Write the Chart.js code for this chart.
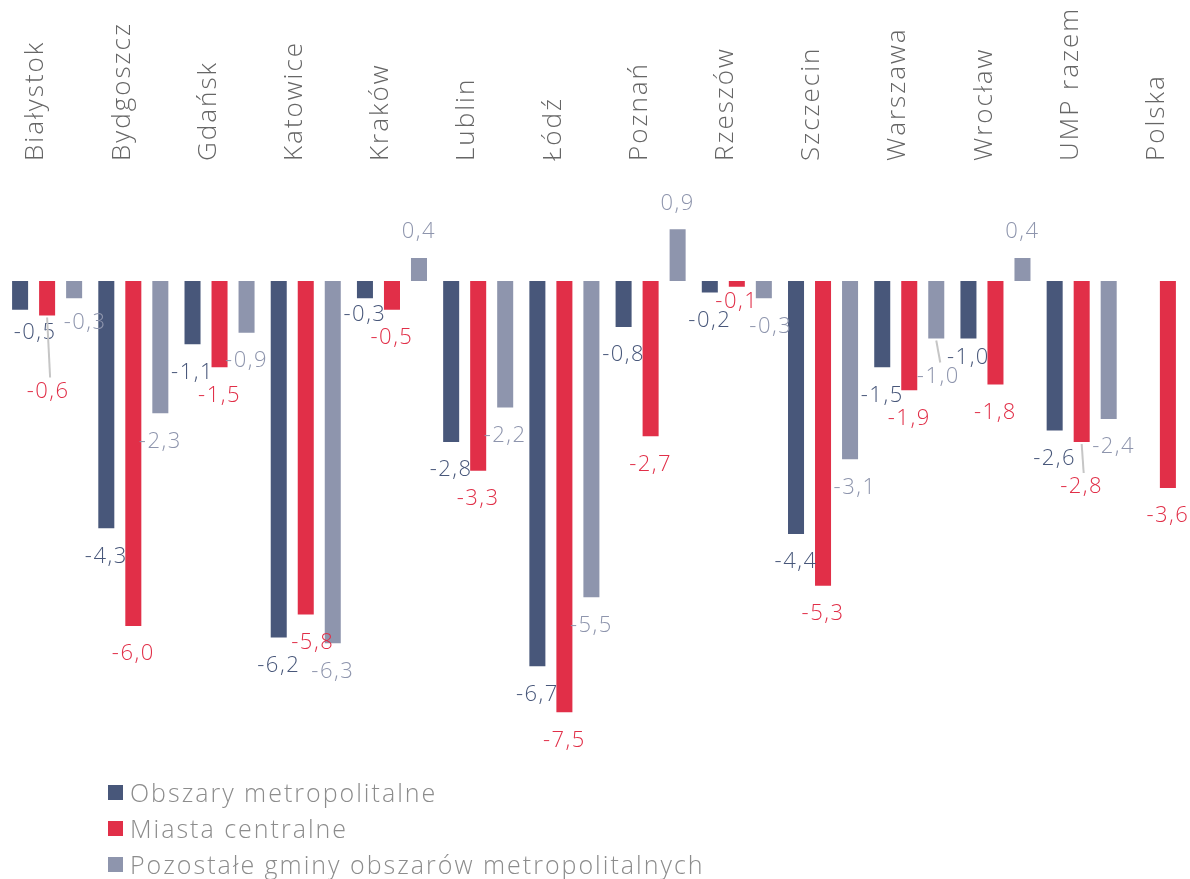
<!DOCTYPE html>
<html>
<head>
<meta charset="utf-8">
<script src="https://cdn.jsdelivr.net/npm/chart.js@4.4.1/dist/chart.umd.min.js"></script>
<style>
  html, body { margin: 0; padding: 0; background: #fff; overflow: hidden; }
  #wrap { position: relative; width: 1190px; height: 879px; overflow: hidden; }
  #legend { position: absolute; left: 108px; top: 774px; font-family: "Open Sans", sans-serif; font-weight: 300; font-size: 25px; letter-spacing: 2px; color: #8c8c8c; }
  #legend .item { display: flex; align-items: center; height: 36px; }
  #legend .box { width: 15px; height: 15px; margin-right: 7px; }
</style>
</head>
<body>
<div id="wrap">
  <canvas id="chart" width="1215" height="879"></canvas>
  <div id="legend"></div>
</div>
<script>
const categories = ['Białystok', 'Bydgoszcz', 'Gdańsk', 'Katowice', 'Kraków', 'Lublin', 'Łódź',
  'Poznań', 'Rzeszów', 'Szczecin', 'Warszawa', 'Wrocław', 'UMP razem', 'Polska'];
const metro   = [-0.5, -4.3, -1.1, -6.2, -0.3, -2.8, -6.7, -0.8, -0.2, -4.4, -1.5, -1.0, -2.6, null];
const central = [-0.6, -6.0, -1.5, -5.8, -0.5, -3.3, -7.5, -2.7, -0.1, -5.3, -1.9, -1.8, -2.8, -3.6];
const others  = [-0.3, -2.3, -0.9, -6.3,  0.4, -2.2, -5.5,  0.9, -0.3, -3.1, -1.0,  0.4, -2.4, null];
const seriesNames = ['Obszary metropolitalne', 'Miasta centralne', 'Pozostałe gminy obszarów metropolitalnych'];

const colors = ['#48577a', '#e12f48', '#8e95ad'];
const FONT = '"Open Sans", sans-serif';

// hand nudges for labels that would collide (dataset:index)
const nudges = {
  '0:0': { dx: 15, dy: 23 },
  '1:0': { dx: 1, dy: 76, leader: true },
  '2:0': { dx: 11, dy: 24 },
  '1:3': { dx: 7 },
  '0:4': { dy: 16 },
  '1:8': { dy: 15 },
  '2:8': { dx: 7 },
  '2:9': { dx: 5 },
  '2:10': { dx: 2, dy: 38, leader: true },
  '0:11': { dy: 19 },
  '1:12': { dy: 45, leader: true },
  '2:12': { dx: 5 }
};

// wider spacing so the light font reads closer to the original
const spacing = {
  id: 'spacing',
  beforeDraw(chart) { chart.ctx.letterSpacing = '2px'; }
};

const valueLabels = {
  id: 'valueLabels',
  afterDatasetsDraw(chart) {
    const ctx = chart.ctx;
    ctx.save();
    ctx.font = '300 22px ' + FONT;
    ctx.letterSpacing = '1.5px';
    ctx.textAlign = 'center';
    ctx.textBaseline = 'middle';
    chart.data.datasets.forEach((ds, di) => {
      chart.getDatasetMeta(di).data.forEach((bar, i) => {
        const v = ds.data[i];
        if (v === null) return;
        const n = nudges[di + ':' + i] || {};
        const dy = n.dy !== undefined ? n.dy : (v < 0 ? 28 : -26);
        const x = bar.x + (n.dx || 0);
        const y = bar.y + dy;
        if (n.leader) {
          ctx.strokeStyle = '#c6c6c6';
          ctx.lineWidth = 2;
          ctx.beginPath();
          ctx.moveTo(bar.x, bar.y + 2);
          ctx.lineTo(x + 2, y - 14);
          ctx.stroke();
        }
        ctx.fillStyle = ds.backgroundColor;
        ctx.fillText(v.toFixed(1).replace('.', ','), x, y);
      });
    });
    ctx.restore();
  }
};

const datasets = [metro, central, others].map((d, i) => ({
  label: seriesNames[i],
  data: d,
  backgroundColor: colors[i],
  categoryPercentage: 0.94,
  barPercentage: 0.593
}));

const chart = new Chart(document.getElementById('chart'), {
  type: 'bar',
  data: { labels: categories, datasets: datasets },
  options: {
    responsive: false,
    animation: false,
    layout: { padding: { left: 4, right: 4, top: 0, bottom: 138 } },
    plugins: { legend: { display: false }, tooltip: { enabled: false } },
    scales: {
      x: {
        position: 'top',
        grid: { display: false, drawTicks: false },
        border: { display: false },
        ticks: {
          autoSkip: false,
          minRotation: 90,
          maxRotation: 90,
          padding: 5,
          labelOffset: 20,
          color: '#666',
          font: { family: FONT, size: 26, weight: '300' }
        },
        afterFit(scale) { scale.height = 166; }
      },
      y: { display: false, min: -8, max: 2 }
    }
  },
  plugins: [spacing, valueLabels]
});

// legend as html, built from the datasets
const legend = document.getElementById('legend');
chart.data.datasets.forEach(ds => {
  const row = document.createElement('div');
  row.className = 'item';
  const box = document.createElement('span');
  box.className = 'box';
  box.style.background = ds.backgroundColor;
  const txt = document.createElement('span');
  txt.textContent = ds.label;
  row.appendChild(box);
  row.appendChild(txt);
  legend.appendChild(row);
});
</script>
</body>
</html>
